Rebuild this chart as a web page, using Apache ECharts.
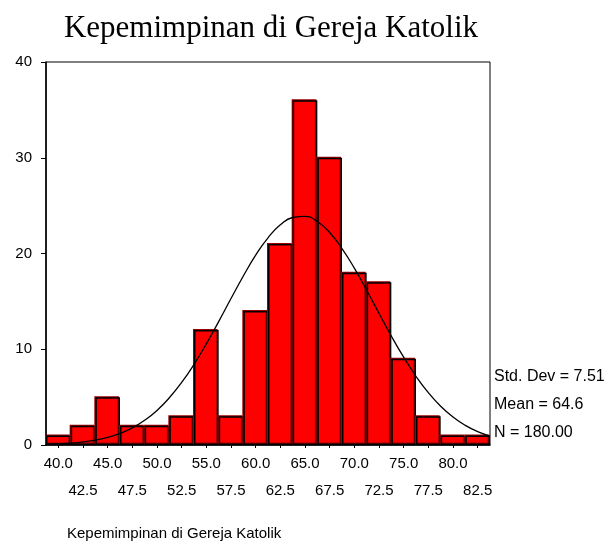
<!DOCTYPE html>
<html><head><meta charset="utf-8">
<script src="https://cdn.jsdelivr.net/npm/echarts@6/dist/echarts.min.js"></script>
<style>html,body{margin:0;padding:0;background:#fff}#c{width:609px;height:550px}</style>
</head><body><div id="c"></div>
<script>
const chartTitle = 'Kepemimpinan di Gereja Katolik';
const axisTitle = 'Kepemimpinan di Gereja Katolik';
const binLabels = ['40.0','42.5','45.0','47.5','50.0','52.5','55.0','57.5','60.0','62.5','65.0','67.5','70.0','72.5','75.0','77.5','80.0','82.5'];
const counts = [1,2,5,2,2,3,12,3,14,21,36,30,18,17,9,3,1,1];
const curveX = [38.75,40,41.25,42.5,43.75,45,46.25,47.5,48.75,50,51.25,52.5,53.75,55,56.25,57.5,58.75,60,61.25,62.5,63.75,65,66.25,67.5,68.75,70,71.25,72.5,73.75,75,76.25,77.5,78.75,80,81.25,82.5,83.75];
const curveY = [0.06,0.11,0.19,0.32,0.51,0.79,1.21,1.79,2.58,3.61,4.93,6.53,8.42,10.56,12.89,15.30,17.65,19.83,21.64,22.99,23.76,23.88,23.34,22.19,20.52,18.47,16.16,13.76,11.38,9.17,7.18,5.47,4.05,2.92,2.05,1.40,0.93];
const statLines = ['Std. Dev = 7.51','Mean = 64.6','N = 180.00'];
const yTicks = [0,10,20,30,40];

const chart = echarts.init(document.getElementById('c'), null, {renderer:'canvas'});
const sans = 'Liberation Sans, Arial, sans-serif';
chart.setOption({
  animation:false,
  backgroundColor:'#fff',
  grid:{left:46,right:119,top:62,bottom:105,show:true,borderColor:'#000',borderWidth:1,backgroundColor:'transparent'},
  xAxis:[{
    type:'category',data:binLabels,boundaryGap:true,
    axisLine:{show:true,lineStyle:{color:'#000',width:1.5}},
    axisTick:{show:true,alignWithLabel:true,length:3,lineStyle:{color:'#000'}},
    axisLabel:{interval:0,margin:5,fontFamily:sans,fontSize:15,color:'#000',lineHeight:27,
      formatter:(v,i)=> i%2===0 ? v+'\n ' : ' \n'+v},
    splitLine:{show:false}
  },{
    type:'value',min:38.75,max:83.75,show:false
  }],
  yAxis:{type:'value',min:yTicks[0],max:yTicks[yTicks.length-1],interval:10,
    axisLine:{show:true,lineStyle:{color:'#000',width:1.5}},
    axisTick:{show:true,length:5,lineStyle:{color:'#000'}},
    axisLabel:{margin:14,fontFamily:sans,fontSize:15,color:'#000'},
    splitLine:{show:false}},
  title:[{text:chartTitle,left:266,top:8,textAlign:'center',
    textStyle:{fontFamily:'Liberation Serif, Times New Roman, serif',fontSize:31,fontWeight:'normal',color:'#000'}}],
  graphic:[
    {type:'text',left:67,top:526,style:{text:axisTitle,font:'15px '+sans,fill:'#000'}},
    ...statLines.map((s,i)=>({type:'text',left:494,top:369+i*28,style:{text:s,font:'16px '+sans,fill:'#000'}}))
  ],
  series:[{
    type:'bar',data:counts,barCategoryGap:'0%',xAxisIndex:0,
    itemStyle:{color:'#ff0000',borderColor:'#000',borderWidth:1.5,shadowColor:'#990000',shadowOffsetX:-1,shadowOffsetY:-1,shadowBlur:0}
  },{
    type:'line',xAxisIndex:1,data:curveX.map((x,i)=>[x,curveY[i]]),smooth:true,showSymbol:false,
    lineStyle:{color:'#000',width:1.3},z:5
  }]
});
</script></body></html>
